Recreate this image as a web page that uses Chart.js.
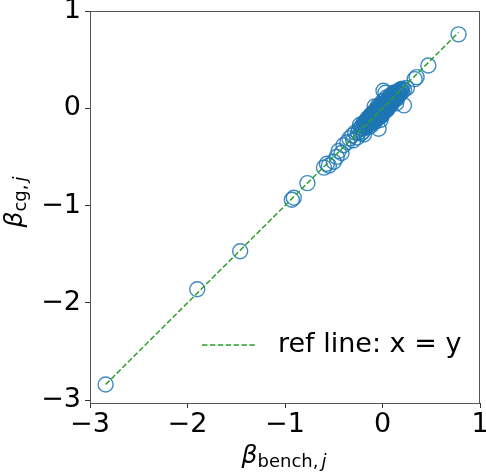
<!DOCTYPE html>
<html><head><meta charset="utf-8">
<script src="https://cdn.jsdelivr.net/npm/chart.js@4/dist/chart.umd.min.js"></script>
<style>html,body{margin:0;padding:0;background:#fff;overflow:hidden}canvas{display:block}</style>
</head><body>
<canvas id="c" width="486" height="476"></canvas>
<script>
// ---- data ----
const benchX = [-2.84,-1.90,-1.46,-0.93,-0.91,-0.77,
 -0.60,-0.57,-0.55,-0.50,-0.47,-0.45,-0.42,-0.40,-0.36,-0.34,-0.31,-0.30,-0.28,-0.26,
 0.78,0.47,0.35,0.33,0.25,0.22,0.20,0.22,
 -0.24,-0.22,-0.21,-0.20,-0.19,-0.18,-0.17,-0.16,-0.15,-0.15,-0.14,-0.13,-0.13,-0.12,-0.11,-0.11,-0.10,-0.10,-0.09,-0.09,
 -0.08,-0.08,-0.07,-0.07,-0.06,-0.06,-0.05,-0.05,-0.04,-0.04,-0.03,-0.03,-0.02,-0.02,-0.01,-0.01,0.00,0.00,0.01,0.01,
 0.02,0.02,0.03,0.03,0.04,0.04,0.05,0.05,0.06,0.06,0.07,0.07,0.08,0.08,0.09,0.09,0.10,0.10,0.11,0.11,0.12,0.12,
 0.13,0.13,0.14,0.15,0.15,0.16,0.17,0.18,0.19,-0.04,0.03,0.01,-0.19,-0.23,0.14,-0.08,-0.02,
 -0.18,-0.17,-0.16,-0.14,-0.12,-0.12,-0.11,-0.10,-0.09,-0.08,-0.07,-0.07,-0.06,-0.05,-0.05,-0.04,-0.03,-0.03,-0.02,-0.02,
 -0.01,-0.01,0.00,0.00,0.00,0.01,0.01,0.02,0.02,0.03,0.03,0.04,0.04,0.05,0.05,0.06,0.06,0.07,0.07,0.08,
 0.08,0.09,0.09,0.10,0.10,0.11,0.12,0.13,0.14,0.16,0.17,0.18,0.20,-0.20,-0.22,-0.25,-0.13,-0.15,0.11,0.15,
 -0.17,-0.15,-0.13,-0.11,-0.10,-0.08,-0.06,-0.04,-0.03,-0.01,0.00,0.02,0.03,0.05,0.06,0.08,0.09,0.11,0.12,0.14,
 -0.14,-0.12,-0.09,-0.07,-0.05,-0.02,0.01,0.04,0.07,0.10,0.13,0.16,-0.06,-0.01,0.03,0.06];
const cgY = [-2.84,-1.86,-1.47,-0.94,-0.92,-0.77,
 -0.61,-0.57,-0.59,-0.55,-0.50,-0.44,-0.46,-0.38,-0.35,-0.31,-0.28,-0.33,-0.25,-0.30,
 0.76,0.44,0.32,0.30,0.21,0.19,0.17,0.03,
 -0.22,-0.26,-0.18,-0.21,-0.15,-0.20,-0.13,-0.18,-0.16,-0.10,-0.19,-0.12,-0.08,-0.15,-0.10,-0.06,-0.13,-0.08,-0.11,-0.04,
 -0.07,-0.12,-0.05,-0.09,-0.02,-0.10,-0.06,-0.01,-0.08,-0.03,0.00,-0.06,-0.03,0.02,-0.05,0.00,0.03,-0.02,0.01,-0.04,
 0.04,0.00,0.06,0.01,0.03,-0.02,0.07,0.02,0.05,0.09,0.03,0.07,0.10,0.05,0.08,0.12,0.06,0.10,0.13,0.08,0.11,0.15,
 0.09,0.13,0.16,0.12,0.17,0.14,0.18,0.15,0.19,-0.21,0.16,0.18,-0.27,-0.17,0.05,0.02,-0.12,
 -0.16,-0.19,-0.12,-0.14,-0.10,-0.18,-0.13,-0.05,-0.15,-0.09,-0.02,-0.13,-0.06,-0.10,0.02,-0.05,-0.09,0.03,-0.01,-0.07,
 0.04,-0.08,0.00,0.07,-0.06,0.04,-0.01,0.08,-0.03,0.03,-0.01,0.07,0.11,0.04,-0.01,0.07,0.01,0.11,0.05,0.08,
 0.13,0.04,0.10,0.14,0.08,0.10,0.13,0.16,0.12,0.17,0.14,0.19,0.20,-0.24,-0.20,-0.25,-0.16,-0.13,0.16,0.10,
 -0.14,-0.17,-0.10,-0.14,-0.07,-0.11,-0.04,-0.06,-0.01,-0.03,0.01,0.00,0.05,0.02,0.04,0.06,0.11,0.09,0.14,0.11,
 -0.11,-0.09,-0.08,-0.04,-0.03,0.01,0.03,0.05,0.09,0.12,0.11,0.15,-0.03,0.02,0.06,0.03];
const refLineX = [-2.84, 0.78];
const refLineY = [-2.84, 0.78];
const xTicks = [-3, -2, -1, 0, 1];
const yTicks = [-3, -2, -1, 0, 1];
const refLabel = 'ref line: x = y';

const FONT = 'DejaVu Sans';
const TICK_SIZE = 27;
const fmt = v => (v < 0 ? '\u2212' + Math.abs(v) : String(v));

const pts = benchX.map((x, i) => ({x, y: cgY[i]}));
const ref = refLineX.map((x, i) => ({x, y: refLineY[i]}));

// keep the plot box's right edge where the reference has it (label overhang allowed)
const fixRight = {
  id: 'fixRight',
  afterLayout(chart) {
    const a = chart.chartArea;
    const target = chart.width - 6;
    a.right = target;
    a.width = target - a.left;
    const xs = chart.scales.x;
    xs.right = target;
    xs.width = target - xs.left;
    xs.configure();
  }
};

const framePlugin = {
  id: 'frame',
  afterDatasetsDraw(chart) {
    const {ctx, chartArea: a} = chart;
    ctx.save();
    ctx.strokeStyle = '#555';
    ctx.lineWidth = 1;
    ctx.strokeRect(a.left + 0.5, a.top + 0.5, a.right - a.left - 1, a.bottom - a.top);
    ctx.restore();
  }
};

const labelPlugin = {
  id: 'mathLabels',
  afterDraw(chart) {
    const {ctx, chartArea: a} = chart;
    const big = 25, small = 18;
    ctx.save();
    ctx.fillStyle = '#000';
    ctx.textBaseline = 'alphabetic';
    function drawLabel(subUp, subIt) {
      const gap = 3;
      ctx.font = 'italic ' + big + 'px "' + FONT + '"';
      const wB = ctx.measureText('\u03b2').width;
      ctx.font = small + 'px "' + FONT + '"';
      const wS = ctx.measureText(subUp).width;
      ctx.font = 'italic ' + small + 'px "' + FONT + '"';
      const wI = ctx.measureText(subIt).width;
      const total = wB + wS + gap + wI;
      let x = -total / 2;
      ctx.font = 'italic ' + big + 'px "' + FONT + '"';
      ctx.fillText('\u03b2', x, 0);
      x += wB;
      ctx.font = small + 'px "' + FONT + '"';
      ctx.fillText(subUp, x, 4);
      x += wS + gap;
      ctx.font = 'italic ' + small + 'px "' + FONT + '"';
      ctx.fillText(subIt, x, 4);
    }
    // x label
    ctx.save();
    ctx.translate((a.left + a.right) / 2 - 1, 463);
    drawLabel('bench,', 'j');
    ctx.restore();
    // y label
    ctx.save();
    ctx.translate(22, 202);
    ctx.rotate(-Math.PI / 2);
    drawLabel('cg,', 'j');
    ctx.restore();
    // legend
    const ly = 345;
    ctx.strokeStyle = '#2ca02c';
    ctx.lineWidth = 1.5;
    ctx.setLineDash([5.5, 2.4]);
    ctx.beginPath();
    ctx.moveTo(a.left + 112, ly);
    ctx.lineTo(a.left + 167, ly);
    ctx.stroke();
    ctx.setLineDash([]);
    ctx.font = TICK_SIZE + 'px "' + FONT + '"';
    ctx.textBaseline = 'middle';
    ctx.fillText(chart.data.datasets[0].label, a.left + 188, ly);
    ctx.restore();
  }
};

const tickScale = (lo, hi, list, isX) => ({
  type: 'linear',
  min: lo, max: hi,
  afterBuildTicks: s => { s.ticks = list.map(v => ({value: v})); },
  afterFit: s => {
    if (isX) { s.height = 73; s.paddingLeft = 0; s.paddingRight = 0; }
    else { s.width = 90; s.paddingTop = 0; s.paddingBottom = 0; }
  },
  ticks: {
    font: {family: FONT, size: TICK_SIZE},
    color: '#000',
    padding: isX ? 1 : 4,
    maxRotation: 0,
    autoSkip: false,
    callback: v => fmt(v)
  },
  grid: {drawOnChartArea: false, drawTicks: true, tickLength: 5, tickColor: '#333', tickWidth: 1},
  border: {display: false}
});

new Chart(document.getElementById('c'), {
  data: {
    datasets: [
      {
        type: 'line',
        label: refLabel,
        data: ref,
        borderColor: '#2ca02c',
        borderWidth: 1.5,
        borderDash: [5.5, 2.4],
        pointRadius: 0,
        fill: false,
        order: 0
      },
      {
        type: 'scatter',
        label: 'points',
        data: pts,
        pointRadius: 7.5,
        pointStyle: 'circle',
        borderColor: 'rgba(31,119,180,0.85)',
        backgroundColor: 'rgba(0,0,0,0)',
        pointBorderWidth: 1.4,
        borderWidth: 1.4,
        order: 1
      }
    ]
  },
  options: {
    responsive: false,
    animation: false,
    devicePixelRatio: 1,
    layout: {padding: {top: 11, right: 6, left: 0, bottom: 0}},
    plugins: {legend: {display: false}, tooltip: {enabled: false}},
    scales: {
      x: tickScale(-3, 1, xTicks, true),
      y: tickScale(-3.03, 1, yTicks, false)
    }
  },
  plugins: [fixRight, framePlugin, labelPlugin]
});
</script>
</body></html>
